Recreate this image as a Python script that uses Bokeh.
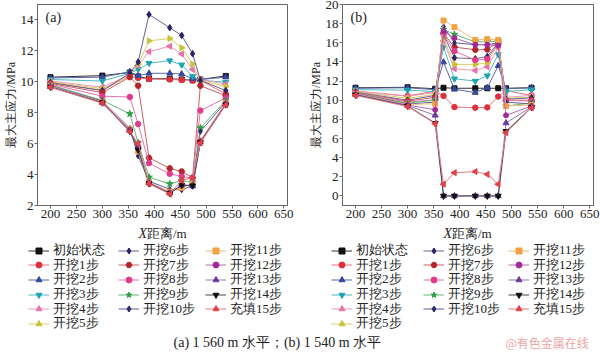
import math
from bokeh.plotting import figure
from bokeh.models import Legend, LegendItem, Label, FixedTicker, Range1d, ColumnDataSource
from bokeh.layouts import column, row
from bokeh.embed import file_html
from bokeh.resources import INLINE

# ---------------- data ----------------
x_dist = [200, 300, 353, 369, 390, 430, 453, 474, 489, 538]
x_ticks = [200, 250, 300, 350, 400, 450, 500, 550, 600, 650]
ya_ticks = [2, 4, 6, 8, 10, 12, 14]
yb_ticks = [0, 2, 4, 6, 8, 10, 12, 14, 16, 18, 20]

names = ["初始状态", "开挖1步", "开挖2步", "开挖3步", "开挖4步", "开挖5步",
         "开挖6步", "开挖7步", "开挖8步", "开挖9步", "开挖10步",
         "开挖11步", "开挖12步", "开挖13步", "开挖14步", "充填15步"]

# panel (a): 1 560 m level
A0 = [10.30, 10.40, 10.60, 10.35, 10.20, 10.20, 10.15, 10.10, 10.15, 10.38]
A1 = [9.95, 9.45, 10.40, 10.25, 10.18, 10.15, 10.12, 10.08, 10.10, 9.22]
A2 = [10.25, 10.30, 10.65, 10.40, 10.55, 10.55, 10.50, 10.20, 10.15, 10.30]
A3 = [10.15, 10.05, 10.55, 10.80, 11.20, 11.37, 11.10, 10.35, 10.10, 9.97]
A4 = [10.05, 9.65, 10.45, 11.05, 11.95, 12.30, 11.80, 10.80, 10.15, 9.85]
A5 = [10.00, 9.55, 10.35, 11.15, 12.65, 12.80, 12.20, 11.15, 10.10, 9.69]
A6 = [9.95, 9.43, 10.55, 11.28, 14.35, 13.50, 13.00, 11.82, 10.10, 9.43]
A7 = [9.90, 9.30, 10.30, 9.75, 5.08, 4.40, 4.20, 3.80, 9.75, 9.10]
A8 = [9.85, 9.07, 9.02, 7.27, 4.74, 4.05, 3.88, 3.75, 8.14, 8.96]
A9 = [9.80, 8.80, 7.93, 6.05, 3.83, 3.40, 3.60, 3.50, 7.02, 8.79]
A10 = [9.75, 8.75, 7.00, 5.20, 3.57, 3.05, 3.00, 3.30, 6.78, 8.70]
A11 = [9.72, 8.70, 6.95, 5.50, 3.50, 2.90, 3.15, 3.40, 6.20, 8.65]
A12 = [9.70, 8.68, 6.90, 5.70, 3.48, 2.82, 3.30, 3.30, 6.15, 8.60]
A13 = [9.68, 8.65, 6.85, 5.88, 3.45, 2.80, 3.35, 3.25, 6.10, 8.55]
A14 = [9.66, 8.65, 6.80, 5.60, 3.42, 2.78, 3.32, 3.28, 6.08, 8.52]
A15 = [9.65, 8.62, 6.78, 6.00, 3.40, 2.75, 3.62, 3.80, 6.05, 8.50]

# panel (b): 1 540 m level
B0 = [11.30, 11.35, 11.20, 11.30, 11.25, 11.25, 11.25, 11.25, 11.25, 11.30]
B1 = [10.95, 10.45, 10.95, 10.45, 9.28, 9.22, 9.25, 10.38, 11.00, 10.50]
B2 = [11.25, 11.30, 11.10, 13.98, 11.15, 10.80, 11.30, 13.60, 11.20, 11.30]
B3 = [11.10, 11.05, 10.90, 15.55, 12.24, 12.00, 12.56, 14.78, 10.90, 11.10]
B4 = [10.95, 10.40, 10.80, 16.20, 13.29, 13.11, 13.50, 15.45, 10.30, 10.50]
B5 = [10.90, 10.20, 10.60, 16.50, 13.74, 13.74, 13.91, 15.90, 10.20, 10.30]
B6 = [10.85, 10.00, 10.50, 16.85, 14.43, 14.33, 14.57, 16.00, 10.10, 10.25]
B7 = [10.80, 9.90, 10.30, 17.00, 15.55, 15.27, 15.30, 16.10, 10.00, 10.00]
B8 = [10.75, 9.80, 10.05, 16.90, 15.13, 14.20, 14.30, 15.90, 10.00, 9.90]
B9 = [10.70, 9.70, 10.00, 17.40, 16.87, 16.10, 16.10, 16.20, 9.40, 9.70]
B10 = [10.70, 9.60, 9.80, 17.70, 16.00, 15.80, 15.80, 16.00, 9.80, 9.60]
B11 = [10.65, 9.55, 9.63, 18.33, 17.63, 16.30, 16.38, 16.30, 9.40, 9.50]
B12 = [10.60, 9.50, 9.00, 17.20, 16.49, 15.80, 15.80, 15.70, 8.42, 9.40]
B13 = [10.60, 9.45, 8.42, 0.00, 0.00, 0.00, 0.00, 0.00, 7.62, 9.30]
B14 = [10.55, 9.40, 7.60, 0.00, 0.00, 0.00, 0.00, 0.00, 6.75, 9.25]
B15 = [10.50, 9.35, 7.55, 1.22, 2.43, 2.54, 2.26, 1.22, 6.60, 9.22]

panel_a = [A0, A1, A2, A3, A4, A5, A6, A7, A8, A9, A10, A11, A12, A13, A14, A15]
panel_b = [B0, B1, B2, B3, B4, B5, B6, B7, B8, B9, B10, B11, B12, B13, B14, B15]

y_title = "最大主应力/MPa"
caption = "(a) 1 560 m 水平；(b) 1 540 m 水平"
watermark = "@有色金属在线"

# ---------------- styles ----------------
marker_colors = ["#111111", "#e0303c", "#34489c", "#1ea3b3", "#e873a8", "#c9c235",
                 "#2b2266", "#b2262b", "#e23a8c", "#2f9e45", "#2a2a6e",
                 "#f2a144", "#a12a98", "#6b3b9b", "#111111", "#e3404b"]
line_colors = ["#333333", "#e8707c", "#5566aa", "#4fb8c4", "#ee98bf", "#d6d06a",
               "#6a6390", "#c86064", "#ea72aa", "#66b877", "#5f5f94",
               "#f4bb78", "#b86ab2", "#9477b7", "#444444", "#ea7880"]
markers = ["square", "circle", "triangle", "inverted_triangle", "triangle", "triangle",
           "diamond", "hex", "circle", "star", "diamond",
           "square", "circle", "triangle", "inverted_triangle", "triangle"]
angles = [0, 0, 0, 0, math.pi / 2, -math.pi / 2,
          0, 0, 0, 0, 0,
          0, 0, 0, 0, math.pi / 2]
sizes = [5, 5.5, 6, 6, 6, 6, 6.5, 6, 5.5, 7, 5.5, 5, 5, 6, 6, 6]

SERIF = "Liberation Serif"
CJK = "Noto Sans CJK SC"
AX = "#666666"
TXT = "#222222"
TOP_H = 225


def build(vals, yr, yt, tag, bl, br):
    p = figure(width=300, height=TOP_H, x_range=Range1d(175, 657), y_range=Range1d(*yr),
               output_backend="svg", toolbar_location=None,
               min_border_left=bl, min_border_right=br,
               min_border_top=4, min_border_bottom=20)
    p.xgrid.visible = False
    p.ygrid.visible = False
    p.outline_line_color = AX
    p.xaxis.ticker = FixedTicker(ticks=x_ticks)
    p.yaxis.ticker = FixedTicker(ticks=yt)
    for ax in (p.xaxis[0], p.yaxis[0]):
        ax.major_label_text_font = SERIF
        ax.major_label_text_font_size = "13px"
        ax.major_label_text_color = TXT
        ax.major_tick_in = 0
        ax.major_tick_out = 3
        ax.minor_tick_in = 0
        ax.minor_tick_out = 0
        ax.axis_line_color = AX
        ax.major_tick_line_color = AX
        ax.major_label_standoff = 1
    p.yaxis.axis_label = y_title
    p.yaxis.axis_label_text_font = SERIF
    p.yaxis.axis_label_text_font_style = "normal"
    p.yaxis.axis_label_text_font_size = "12px"
    p.yaxis.axis_label_text_color = TXT
    p.yaxis.axis_label_standoff = 0
    p.add_layout(Label(x=8, y=188, x_units="screen", y_units="screen", text=tag,
                       text_font=SERIF, text_font_size="14px",
                       text_align="left", text_baseline="middle", text_color=TXT))
    for i, ys in enumerate(vals):
        p.line(x_dist, ys, line_color=line_colors[i], line_width=1)
        p.scatter(x_dist, ys, marker=markers[i], angle=angles[i], size=sizes[i],
                  fill_color=marker_colors[i], line_color=marker_colors[i])
    return p


pa = build(panel_a, (2, 15), ya_ticks, "(a)", 37, 13)
pb = build(panel_b, (-1, 20), yb_ticks, "(b)", 42, 7)

# ---- bottom area: x titles, legends, caption ----
BOT_H = 353 - TOP_H
pl = figure(width=600, height=BOT_H, x_range=Range1d(0, 600), y_range=Range1d(0, BOT_H),
            output_backend="svg", toolbar_location=None, min_border=0,
            x_axis_location=None, y_axis_location=None)
pl.outline_line_color = None
pl.xgrid.visible = False
pl.ygrid.visible = False

# legend proxies (no visible data points)
proxy = ColumnDataSource(data=dict(x=[float("nan")], y=[float("nan")]))
items = []
for i in range(len(names)):
    lr = pl.line(x="x", y="y", source=proxy, line_color=line_colors[i], line_width=1)
    sr = pl.scatter(x="x", y="y", source=proxy, marker=markers[i], angle=angles[i],
                    size=sizes[i], fill_color=marker_colors[i], line_color=marker_colors[i])
    items.append((names[i], [lr, sr]))

ITEM_H = 20
GLYPH_H = 15
PITCH = 14.67
FIRST = 25
col_of = [0] * 6 + [1] * 5 + [2] * 5
row_of = list(range(6)) + list(range(5)) + list(range(5))
for col_x in ((28, 118, 205), (331, 423, 508)):
    for i, (n, r) in enumerate(items):
        c = FIRST + PITCH * row_of[i]
        leg = Legend(items=[LegendItem(label=n, renderers=r)],
                     location=(col_x[col_of[i]], BOT_H - c - ITEM_H / 2),
                     orientation="vertical",
                     label_text_font=SERIF, label_text_font_size="13px",
                     label_text_color=TXT,
                     glyph_width=21, glyph_height=GLYPH_H, label_height=ITEM_H,
                     label_standoff=4, spacing=0, padding=0, margin=0,
                     border_line_alpha=0, background_fill_alpha=0)
        pl.add_layout(leg)

for xs in (146.5, 451.5):
    pl.add_layout(Label(x=xs, y=BOT_H - 8, text="X", text_font=SERIF, text_font_style="italic",
                        text_font_size="14px", text_align="right", text_baseline="middle",
                        text_color=TXT))
    pl.add_layout(Label(x=xs, y=BOT_H - 8, text="距离/m", text_font=SERIF,
                        text_font_size="13px", text_align="left", text_baseline="middle",
                        text_color=TXT))

pl.add_layout(Label(x=173, y=11.5, text=caption, text_font=SERIF, text_font_size="14px",
                    text_baseline="middle", text_color=TXT))
pl.add_layout(Label(x=505, y=11.5, text=watermark, text_font=CJK, text_font_size="12px",
                    text_baseline="middle", text_color="#eaa6a6"))

layout = column(row(pa, pb, spacing=0), pl, spacing=0)
open("out.html", "w").write(file_html(layout, INLINE))
